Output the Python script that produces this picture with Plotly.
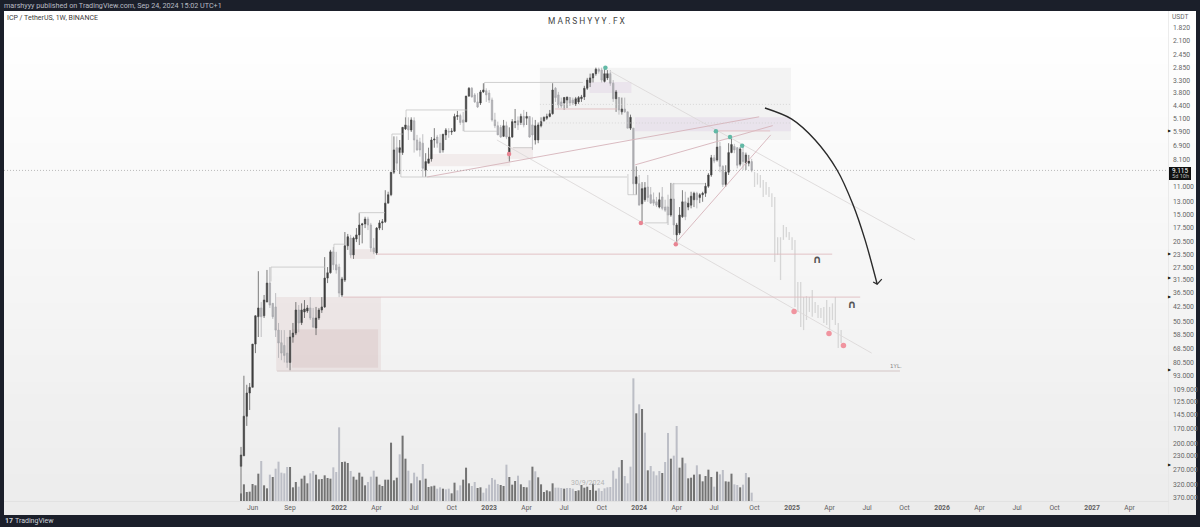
from datetime import datetime, timedelta
import plotly.graph_objects as go

W, H = 1200, 527
START = datetime(2021, 5, 10)

open_ = [259,230,147,113,106,65,47.7,43.2,47.2,40.4,
32.6,41,42.7,55.5,64,66,72,80,60,57.4,
44.2,51,45.2,44.7,43.2,48.4,54.2,48.4,44.2,42.7,
30.8,29,22.9,26.5,27.2,37.3,31.5,21.4,19.6,23.7,
19.8,18.9,16.9,16.7,15.8,16.9,21.9,23.2,17.5,16.5,
16.3,13.2,12,9.3,7.05,7.45,7.45,5.7,5.5,5.77,
5.2,6.46,6.6,6.7,9.07,8.4,8,6.46,6.25,6.7,
7.23,6.1,5.85,5.9,5.85,4.95,4.9,5.15,5.25,3.93,
3.6,3.88,4.2,4.25,3.75,3.7,3.8,4.11,5.15,5.5,
5.6,6.2,5.5,7.45,6.25,5.3,5.2,5.3,4.95,5.05,
4.95,5.45,6.46,6.46,5.5,5.2,5.05,4.95,4.8,3.6,
3.88,4.2,4.25,4.11,4,4.11,4.3,4.2,4.05,3.97,
3.6,3.37,3.2,3.05,2.9,2.93,3.33,3.2,3.05,3.4,
4.05,4,4.7,4.55,4.7,5.65,5.65,10.6,10.6,13.3,
12.7,11,12,12.7,13,13.8,12.3,13.8,13.8,15.1,
12.6,18.9,18.5,15.4,13,13.8,13.5,12.7,11.8,12.4,
12,11.8,10.9,9.6,7.9,8.1,6.95,8.7,10.7,9.3,
7.45,6.95,7.05,8.5,7.45,8.4,8.4,8.25]

close = [228,147,113,106,65,47.2,43.2,47.7,39.5,32.6,
41.8,47.7,55.5,64.2,72,74,80,60,57.4,44.2,
51.2,44.2,43.7,43.2,48.4,53.6,48.4,44.2,42.7,30.8,
29,22.9,26.5,28.1,36.5,31.1,21.4,19.3,23.7,19.6,
18.9,16.9,16.7,15.8,16.9,21.9,22.9,17.5,16.5,16.3,
13.2,12,9.3,7.23,8.4,7.05,5.6,5.45,5.77,5.15,
6.46,7.23,7.23,8.9,8.25,8,6.46,6.4,6.7,7.45,
6.05,5.77,5.9,5.85,4.95,4.9,5.3,5.3,3.93,3.6,
3.97,4.2,4.45,3.75,3.67,3.88,4.11,5.15,5.5,6.1,
6.25,5.5,6.25,6.25,5.25,5.25,5.45,4.95,5.45,4.95,
6.25,6.1,5.5,5.45,5.25,5,4.95,4.8,3.67,4,
4.35,4.4,4,3.97,4.25,4.25,4.05,4,3.97,3.6,
3.28,3.2,3.05,2.9,2.97,3.28,3.05,3.05,3.4,4.05,
3.75,4.6,4.55,4.7,5.65,5,10.6,9.8,13.5,11.2,
11.1,12.4,13.2,13.2,13.5,12.7,14,14.3,15.1,12.6,
16.9,16.9,15.1,13,15.4,13.2,12.2,11.8,12.7,12,
11.8,10.9,9.6,7.9,8.2,7,8.7,10.7,9.3,7.45,
6.8,7.23,8.6,7.15,8.25,7.65,8.2,9.115]

high = [353,230,164,137,106,72,60,60,48.4,40.4,
43.2,48.9,60,76,78,80,85,88,64,58.7,
56.8,52.4,48.4,45.7,49.5,54.2,58.7,49.5,45.7,43.2,
32.6,29.3,28.1,29.3,38.2,38.2,32.2,22.4,24.5,24.8,
20.5,21.2,20.8,17.5,17.9,22.9,23.5,23.7,17.9,17.9,
16.5,13.2,12.2,9.5,9.07,9.5,7.65,5.77,6.46,5.9,
7.45,7.3,7.8,9.8,9.8,8.4,8.25,7.05,7.05,7.5,
7.45,6.46,6.3,6.1,5.9,5.15,5.45,5.85,5.3,3.97,
4,4.25,4.5,4.35,3.8,4.2,4.25,5.25,5.65,6.1,
6.3,6.25,6.4,8.25,6.3,5.65,5.77,5.45,5.6,5.45,
6.3,7.23,6.8,6.7,5.6,5.25,5.15,5,4.85,4.2,
4.5,4.5,4.6,4.5,4.4,4.35,4.4,4.3,4.2,4.11,
3.67,3.55,3.37,3.12,3.05,3.37,3.37,3.28,3.5,4.2,
4.7,4.85,4.85,4.75,5.65,5.77,12,12,13.5,16.3,
13,13,13.3,13.6,13.8,14,14.3,14.6,16.9,15.4,
18.9,20.5,18.9,15.6,16,14.3,14,13.8,14,13.2,
13,12.3,11.1,9.8,8.4,8.25,9.3,11,11,9.6,
7.5,7.5,8.9,8.7,9.07,9.07,8.7,9.3]

low = [208,93,103,101,65,47,28.5,40.4,37.3,28.1,
27.2,41,36.5,51.2,55.5,55.5,60,55.5,51.2,40.4,
41.8,41,39.5,41.8,38.2,43.2,42.7,43.2,38.2,24.3,
27.2,22.4,21.7,22.9,26.2,30.4,18.3,18.7,18.9,19.3,
17.5,14.8,16.5,15.4,15.4,16.5,19.6,17.3,16,15.8,
11.4,11.6,9.3,6.2,6.2,6.46,5.6,5,5,5,
5,6.1,6.3,6.05,7.5,7.05,6.25,5.65,6.1,6.05,
6.05,5.65,5.65,5.65,4.8,4.65,4.8,4.7,3.93,3.55,
3.55,3.8,3.8,3.67,3.4,3.6,3.67,4,4.75,5.25,
5.45,5.15,5.25,5.6,5.1,4.55,4.95,4.8,4.6,4.7,
4.95,5,5.15,5.3,5,4.95,4.8,4.6,3.4,3.55,
3.75,4,3.97,3.97,3.97,4,3.97,3.93,3.88,3.5,
3.2,3.05,3.05,2.85,2.85,2.85,2.85,2.93,2.93,3.28,
3.67,3.97,4,4,4.7,4.85,5.65,8.7,9.6,10.4,
10.4,9.6,11,11.7,12.3,11.7,11,12.7,12,10.5,
10.5,16.5,13.8,11.4,11.6,12.4,11.6,11.6,11.6,11.8,
11.6,10.5,9.4,7.65,7.65,5.9,6.6,8.6,8.6,6.7,
6.25,6.75,7,7,6.95,7.45,7.65,8]

volume = [23,50,27,28,51,47,82,120,47,38,
79,72,97,118,85,83,102,102,41,57,
43,67,76,53,83,90,79,65,66,77,
69,67,101,87,221,117,118,114,90,73,
64,85,73,47,57,73,91,73,49,45,
64,64,175,62,70,140,196,127,91,53,
85,73,62,111,67,42,44,46,37,41,
37,35,37,23,55,32,47,64,100,53,
45,57,39,41,25,38,49,69,64,51,
48,45,109,72,49,60,76,50,42,41,
62,103,89,71,50,27,32,29,53,40,
40,39,37,39,39,37,30,32,48,40,
43,33,52,31,38,30,38,41,42,91,
67,101,123,75,53,103,368,263,290,276,
205,92,105,89,77,90,84,117,204,127,
136,225,100,130,113,68,70,79,107,80,
59,75,94,72,43,88,80,93,59,58,
82,50,48,41,49,84,71,25]

# d = dark volume bar, l = light volume bar
volume_side = "".join(["dddddddldd","ldlllllddd","ldddlldddd","ddllldddld","ddddlllddd",
    "dddddlddld","lldlddddll","dllddllddd","ddddllllll".replace("dddd","lldd",1),"ddlddd"+"lddd",
    "ldlddddddl","lldllldddd","ddddllllll","lldlllldld","ldlllldlld",
    "lldd"+"ldddld","ddddldlldd","dlldlldl"])

# forecast bars that continue after the last candle (range of each week)
ghost_low = [9.27,9.4,9.6,10.16,10.4,11,11.8,12.3,19.4,19.4,16.9,17.3,18.3,19.4,20,32.2,32.2,38.2,37.8,38.2,35.3,40.4,41.8,43.2,42.7,39.5,42.7,41,38.2,51.2,55.5]
ghost_high = [11,10.7,11.1,12.3,12,12.3,13.8,25.7,23.7,31.5,20,19.4,20,22.4,42.7,45.2,53.6,55.5,49.5,45.2,47.7,45.7,48.4,48.4,51.2,52.4,55.5,49.5,52.4,68,64.2]

x_tick_dates = ["2021-06-07","2021-09-06","2022-01-03","2022-04-04","2022-07-04","2022-10-03","2023-01-02","2023-04-03","2023-07-03","2023-10-02","2024-01-01","2024-04-01","2024-07-01","2024-10-07","2025-01-06","2025-04-07","2025-07-07","2025-10-06","2026-01-05","2026-04-06","2026-07-06","2026-10-05","2027-01-04","2027-04-05"]
x_tick_text = ["Jun","Sep","<b>2022</b>","Apr","Jul","Oct","<b>2023</b>","Apr","Jul","Oct","<b>2024</b>","Apr","Jul","Oct","<b>2025</b>","Apr","Jul","Oct","<b>2026</b>","Apr","Jul","Oct","<b>2027</b>","Apr"]
y_ticks = [1.82,2.1,2.45,2.85,3.3,3.8,4.4,5.1,5.9,6.9,8.1,11,13,15,17.5,20.5,23.5,27.5,31.5,36.5,42.5,50.5,58.5,68.5,80.5,93,109,125,145,170,200,230,270,320,370]

# drawings: week number, price
structure_lines = [
 [(10.4,32),(10.4,27.2),(29.1,27.2)], [(32.2,24.3),(32.2,21),(36,21)], [(40.9,16.5),(40.9,14.7),(49.9,14.7)],
 [(52.3,9.07),(52.3,6.04),(56.2,6.04)], [(55.4,7.23),(55.4,9.82),(133.8,9.82)], [(57.2,5.45),(57.2,4.6),(78.3,4.6)],
 [(77.3,5.15),(77.3,5.85),(88.7,5.85)], [(84.4,3.67),(84.4,3.37),(118.5,3.37)], [(94.3,7.05),(101.2,7.05)],
 [(140,16.5),(147.7,16.5),(147.7,13.6)], [(149.6,14.26),(149.6,10.6),(160.8,10.6)], [(134.1,9.5),(134.1,12),(137.3,12)],
]
pink_levels = [[(47.1,23.5),(204.9,23.5)], [(35.4,38.2),(214.6,38.2)], [(108.8,4.55),(130.3,4.55)], [(165,5.83),(183.4,5.83)]]
year_low_level = [(12.5,88.2),(228.4,88.2)]
channel_lines = [[(127.9,2.97),(233.6,20)], [(88.7,6.46),(218.6,72)]]
rising_lines = [[(64.5,9.82),(179.6,4.97)], [(136.6,8.56),(184.3,5.49)], [(150.7,20.7),(183.6,6.1)]]
dotted_levels = [[(103.6,4.32),(190.6,4.32)], [(103.6,5.33),(190.6,5.33)]]
arrow_path = [(181.6,4.5),(190.9,5.1),(199,6.46),(206.6,9.07),(212.1,13.4),(216.3,20),(220.5,33)]
arrow_head = [(219.1,32.2),(220.5,33),(222.1,31.2)]
teal_points = [(126.3,2.85),(164.6,5.85),(169.5,6.25),(173.7,6.9)]
red_points = [(92.9,7.56),(138.6,16.5),(150.7,21)]
pink_points = [(191.7,45),(203.8,57.6),(208.8,66)]
zones = [
 (103.6,190.6,2.85,6.46,"rgba(190,190,190,0.15)"),
 (136.6,190.6,5.0,5.85,"rgba(190,150,205,0.15)"),
 (120.8,135.3,3.35,3.8,"rgba(190,150,205,0.14)"),
 (12.2,48.5,38.2,88.2,"rgba(190,140,140,0.14)"),
 (17.7,47.5,55,85,"rgba(180,120,120,0.13)"),
 (37.8,46.5,22.2,24.8,"rgba(190,140,140,0.14)"),
 (64.8,93.3,7.56,8.7,"rgba(190,140,140,0.12)"),
 (92.3,101.2,7,8,"rgba(190,140,140,0.12)"),
]
last_price = 9.115
last_price_week_left, last_price_week_right = -82.15, 321.3


def wk(i):
    return (START + timedelta(weeks=i)).strftime("%Y-%m-%d %H:%M")


def line_xy(paths):
    xs, ys = [], []
    for path in paths:
        for a, b in path:
            xs.append(wk(a)); ys.append(b)
        xs.append(None); ys.append(None)
    return xs, ys


def line_trace(paths, color, width, dash="solid", shape="linear", smoothing=None):
    xs, ys = line_xy(paths)
    ln = dict(color=color, width=width, dash=dash, shape=shape)
    if smoothing:
        ln["smoothing"] = smoothing
    return go.Scatter(x=xs, y=ys, mode="lines", line=ln, hoverinfo="skip")


dates = [wk(i) for i in range(len(open_))]
ghost_x, ghost_y = [], []
for k, (a, b) in enumerate(zip(ghost_low, ghost_high)):
    d = wk(len(open_) + k)
    ghost_x += [d, d, None]; ghost_y += [a, b, None]

fig = go.Figure()
fig.add_trace(go.Scatter(x=ghost_x, y=ghost_y, mode="lines", line=dict(color="#d6d6d6", width=1.3), hoverinfo="skip"))
fig.add_trace(line_trace(channel_lines, "#dcd9d9", 0.9))
fig.add_trace(line_trace(rising_lines, "#d6b3ba", 0.9))
fig.add_trace(line_trace(dotted_levels, "#cfcfcf", 0.7, "1px,2px"))
fig.add_trace(line_trace(pink_levels, "#e0bcc0", 0.9))
fig.add_trace(line_trace([year_low_level], "#ded4d4", 1.5))
fig.add_trace(line_trace(structure_lines, "#bdbdbd", 0.7))
fig.add_trace(line_trace([[(last_price_week_left, last_price), (last_price_week_right, last_price)]], "#a0a0a0", 0.7, "1px,2px"))
fig.add_trace(go.Candlestick(
    x=dates, open=open_, high=high, low=low, close=close, whiskerwidth=0,
    increasing=dict(line=dict(color="#a6a6aa", width=0.7), fillcolor="#b2b2b6"),
    decreasing=dict(line=dict(color="#484848", width=0.7), fillcolor="#383838"),
    hoverinfo="skip"))
fig.add_trace(go.Bar(
    x=dates, y=volume, yaxis="y2",
    marker=dict(color=["#737373" if s == "d" else "#bcbec6" for s in volume_side], line_width=0),
    hoverinfo="skip"))
for pts, col, size in ((teal_points, "#62b9a6", 4.5), (red_points, "#e88492", 4.5), (pink_points, "#f0949f", 5.5)):
    fig.add_trace(go.Scatter(x=[wk(a) for a, _ in pts], y=[b for _, b in pts], mode="markers",
                             marker=dict(color=col, size=size, line_width=0), hoverinfo="skip"))
fig.add_trace(line_trace([arrow_path], "#2a2a2a", 1.4, shape="spline", smoothing=0.9))
fig.add_trace(line_trace([arrow_head], "#2a2a2a", 1.2))
fig.add_trace(go.Scatter(x=[wk(199.7), wk(211.8), wk(227)], y=[25.1, 42.1, 84], mode="text",
                         text=["<b>∩</b>", "<b>∩</b>", "1YL."], textposition="middle center",
                         textfont=dict(size=[11, 11, 5.5], color=["#555", "#555", "#888"], family="DejaVu Sans"),
                         hoverinfo="skip"))

shapes = []
BANDS = 38
for k in range(BANDS):
    f = k / (BANDS - 1)
    v = 255 - 19 * f ** 1.1
    y1 = 11 + (514 - 11) * k / BANDS
    y2 = 11 + (514 - 11) * (k + 1) / BANDS + 1
    shapes.append(dict(type="rect", xref="paper", yref="paper", x0=4 / W, x1=1196 / W,
                       y0=1 - y2 / H, y1=1 - y1 / H, line_width=0, fillcolor=f"rgb({v:.0f},{v:.0f},{v:.0f})", layer="below"))
for x0, x1, y0, y1, col in zones:
    shapes.append(dict(type="rect", xref="x", yref="y", x0=wk(x0), x1=wk(x1), y0=y0, y1=y1,
                       line_width=0, fillcolor=col, layer="below"))
shapes.append(dict(type="line", xref="paper", yref="paper", x0=1168.5 / W, x1=1168.5 / W, y0=1 - 514 / H, y1=1 - 11 / H,
                   line=dict(color="#e4e4e4", width=0.7)))
shapes.append(dict(type="line", xref="paper", yref="paper", x0=4 / W, x1=1168.5 / W, y0=1 - 501.5 / H, y1=1 - 501.5 / H,
                   line=dict(color="#dedede", width=0.7)))
shapes.append(dict(type="rect", xref="paper", yref="paper", x0=1169 / W, x1=1191 / W, y0=1 - 180 / H, y1=1 - 167 / H,
                   line_width=0, fillcolor="#111111"))


def note(x, y, text, size=7, color="#555", anchor="left", family="Roboto"):
    return dict(xref="paper", yref="paper", x=x / W, y=1 - y / H, text=text, showarrow=False,
                xanchor=anchor, yanchor="middle", font=dict(size=size, color=color, family=family),
                borderpad=0, borderwidth=0)


annotations = [
    note(4, 6, "marshyyy published on TradingView.com, Sep 24, 2024 15:02 UTC+1", 7.2, "#b9bcc4"),
    note(7, 18, "ICP / TetherUS, 1W, BINANCE", 7, "#3a3a3a"),
    note(587, 21, "M A R S H Y Y Y . F X", 8.4, "#444", "center"),
    note(1180, 17, "USDT", 6.6, "#666", "center"),
    note(1180, 170.8, "9.115", 6.4, "#ffffff", "center"),
    note(1180, 176.4, "5d 10h", 5.6, "#bbbbbb", "center"),
    note(587.5, 483, "30/9/2024", 7, "#b4b4b4", "center"),
    note(5, 521, "<b>17</b>", 7, "#cfd3dc"),
    note(15, 521, "TradingView", 7, "#cfd3dc"),
]
for yy in (130, 254, 277, 296, 370, 464):
    annotations.append(note(1169.8, yy, "▶", 4, "#111111", "center", "DejaVu Sans"))

fig.update_layout(
    width=W, height=H, autosize=False, margin=dict(l=0, r=0, t=0, b=0),
    paper_bgcolor="#1b1f2a", plot_bgcolor="rgba(0,0,0,0)", showlegend=False,
    bargap=0.3, hovermode=False, shapes=shapes, annotations=annotations,
    xaxis=dict(type="date", domain=[4 / W, 1168 / W], range=[wk(last_price_week_left), wk(last_price_week_right)],
               rangeslider=dict(visible=False), showgrid=False, zeroline=False, showline=False,
               tickmode="array", tickvals=x_tick_dates, ticktext=x_tick_text, tickangle=0, ticks="",
               ticklabelstandoff=1,
               tickfont=dict(size=6.8, color="#606060", family="Roboto")),
    yaxis=dict(type="log", domain=[1 - 501 / H, 1 - 11 / H], range=[2.5838, 0.1766], side="right",
               anchor="x", showgrid=False, zeroline=False, showline=False, ticks="",
               ticklabelstandoff=4,
               tickmode="array", tickvals=y_ticks, ticktext=[f"{v:.3f}" for v in y_ticks],
               tickfont=dict(size=6.8, color="#666666", family="Roboto")),
    yaxis2=dict(domain=[1 - 501 / H, 1 - 11 / H], overlaying="y", range=[0, 1470], visible=False, anchor="x"),
)
assert len(open_) == len(close) == len(high) == len(low) == len(volume) == len(volume_side), (len(open_), len(close), len(high), len(low), len(volume), len(volume_side))
fig.write_html("out.html", config=dict(displayModeBar=False),
               post_script="document.body.style.margin='0';document.body.style.overflow='hidden';document.documentElement.style.background='#1b1f2a';")
